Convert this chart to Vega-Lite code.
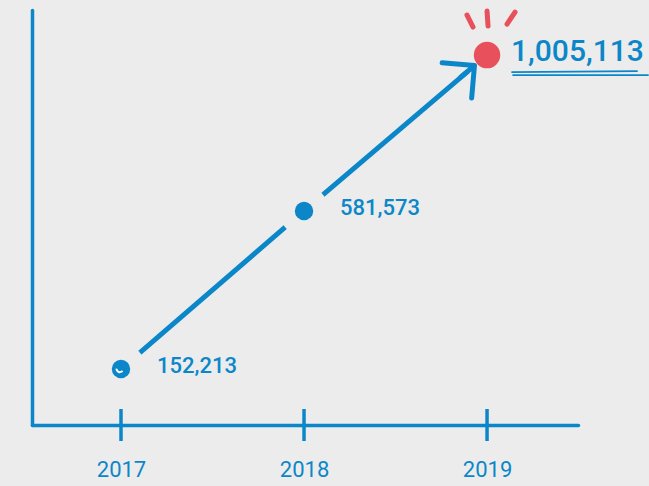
{
  "$schema": "https://vega.github.io/schema/vega-lite/v6.json",
  "autosize": "none",
  "padding": {"left": 32, "top": 10, "right": 71, "bottom": 61},
  "width": 546,
  "height": 415,
  "background": "#ececec",
  "config": {"view": {"stroke": null}},
  "data": {"values": [
    {"year": 2017, "value": 152213},
    {"year": 2018, "value": 581573},
    {"year": 2019, "value": 1005113}
  ]},
  "encoding": {
    "x": {"field": "year", "type": "quantitative",
      "scale": {"domain": [2016.5137, 2019.497], "nice": false, "zero": false},
      "axis": {"title": null, "grid": false, "ticks": false, "values": [2017, 2018, 2019], "format": "d",
        "domainColor": "#0b87c9", "domainWidth": 3.5, "domainCap": "round",
        "labelColor": "#0b87c9", "labelFont": "Roboto", "labelFontSize": 22, "labelPadding": 34}},
    "y": {"field": "value", "type": "quantitative",
      "scale": {"domain": [0, 1127500], "nice": false},
      "axis": {"title": null, "grid": false, "ticks": false, "labels": false,
        "domainColor": "#0b87c9", "domainWidth": 3.5, "domainCap": "round"}}
  },
  "layer": [
    {"mark": {"type": "line", "interpolate": "monotone", "strokeWidth": 5, "color": "#0b87c9", "strokeCap": "round"}},
    {"mark": {"type": "point", "shape": "circle", "filled": true, "fill": "#ececec", "opacity": 1, "size": 2500, "strokeWidth": 0}},
    {"transform": [{"filter": "datum.year === 2019"}],
     "mark": {"type": "point", "shape": "M-0.7,1.2L0,0.5L0.7,1.2M0,0.5L0,1.05", "filled": false, "angle": 50, "size": 4300,
       "stroke": "#0b87c9", "strokeWidth": 5, "strokeCap": "round", "strokeJoin": "round", "opacity": 1}},
    {"mark": {"type": "point", "shape": "circle", "filled": true, "opacity": 1, "strokeWidth": 0},
     "encoding": {
       "color": {"condition": {"test": "datum.year === 2019", "value": "#e8505b"}, "value": "#0b87c9"},
       "size": {"condition": {"test": "datum.year === 2019", "value": 700}, "value": 340}}},
    {"transform": [{"filter": "datum.year === 2017"}],
     "mark": {"type": "point", "shape": "M-0.9,0.1Q-0.6,0.9 0.2,0.5", "filled": false, "size": 100,
       "stroke": "#ffffff", "strokeWidth": 2, "strokeCap": "round", "opacity": 1}},
    {"transform": [{"filter": "datum.year === 2019"}],
     "mark": {"type": "point", "shape": "M-0.4,-0.8L-0.28,-0.56M0,-0.88L0.02,-0.58M0.4,-0.62L0.56,-0.86", "filled": false, "size": 10000,
       "stroke": "#e8505b", "strokeWidth": 5, "strokeCap": "round", "opacity": 1}},
    {"transform": [{"filter": "datum.year === 2019"}],
     "mark": {"type": "point", "shape": "M0.5,0.34L3.0,0.32M0.52,0.4L3.22,0.4", "filled": false, "size": 10000,
       "stroke": "#0b87c9", "strokeWidth": 1.8, "strokeCap": "round", "opacity": 1}},
    {"mark": {"type": "tick", "orient": "vertical", "size": 32, "thickness": 3.5, "color": "#0b87c9", "opacity": 1},
     "encoding": {"y": {"datum": 0}}},
    {"transform": [{"filter": "datum.year !== 2019"}],
     "mark": {"type": "text", "align": "left", "baseline": "middle", "dx": 36, "dy": -3, "font": "Roboto", "fontSize": 22, "fontWeight": 500, "color": "#0b87c9"},
     "encoding": {"text": {"field": "value", "type": "quantitative", "format": ","}}},
    {"transform": [{"filter": "datum.year === 2019"}],
     "mark": {"type": "text", "align": "left", "baseline": "middle", "dx": 24, "dy": -3, "font": "Roboto", "fontSize": 30, "fontWeight": 500, "color": "#0b87c9"},
     "encoding": {"text": {"field": "value", "type": "quantitative", "format": ","}}}
  ]
}
